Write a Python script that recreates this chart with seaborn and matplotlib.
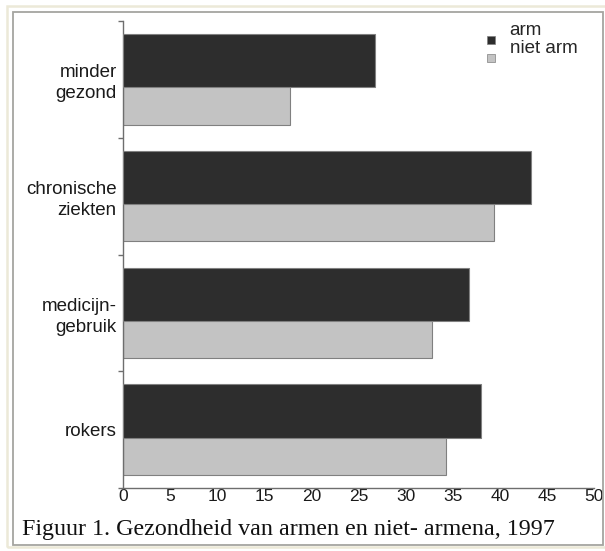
import pandas as pd
import matplotlib
matplotlib.use("Agg")
import matplotlib.pyplot as plt
import matplotlib.patches as mpatches
from matplotlib.legend_handler import HandlerPatch
import seaborn as sns

# waarden (percentages)
categorieen = ["minder\ngezond", "chronische\nziekten", "medicijn-\ngebruik", "rokers"]
groepen = ["arm", "niet arm"]
arm = [26.8, 43.3, 36.7, 38.0]
niet_arm = [17.7, 39.4, 32.8, 34.3]
xticks = [0, 5, 10, 15, 20, 25, 30, 35, 40, 45, 50]
titel = "Figuur 1. Gezondheid van armen en niet- armena, 1997"

df = pd.DataFrame({
    "categorie": categorieen * 2,
    "groep": ["arm"] * len(arm) + ["niet arm"] * len(niet_arm),
    "waarde": arm + niet_arm,
})

sns.set_theme(style="white")
plt.rcParams["font.family"] = ["Liberation Sans", "DejaVu Sans"]

kleuren = {"arm": "#2d2d2d", "niet arm": "#c3c3c3"}

fig = plt.figure(figsize=(6.05, 5.51), dpi=100)
ax = fig.add_axes([123 / 605, 1 - 488 / 551, (594 - 123) / 605, (488 - 21) / 551])

sns.barplot(data=df, y="categorie", x="waarde", hue="groep", hue_order=groepen,
            order=categorieen, orient="h", width=0.64, palette=kleuren,
            edgecolor="#808080", linewidth=0.8, errorbar=None, legend=False, ax=ax)

# balken overlappen elkaar zoals in het origineel (arm ligt bovenop)
for i, cont in enumerate(ax.containers):
    for bar in cont:
        extra = 0.457 - bar.get_height()
        bar.set_y(bar.get_y() - extra / 2)
        bar.set_height(bar.get_height() + extra)
        bar.set_zorder(3 if i == 0 else 2)

ax.set_xlim(0, 50)
ax.set_ylim(3.5, -0.5)
ax.set_xticks(xticks)
ax.set_xticklabels([str(t) for t in xticks])
ax.set_yticks([-0.5, 0.5, 1.5, 2.5, 3.5], minor=True)
ax.set_xlabel("")
ax.set_ylabel("")

ax.tick_params(axis="y", which="major", length=0, pad=4.5, labelsize=13.5, labelcolor="#1a1a1a")
ax.tick_params(axis="y", which="minor", length=3.6, width=1, color="#6e6e6e", left=True)
ax.tick_params(axis="x", length=0, pad=0.5, labelsize=12.5, labelcolor="#1a1a1a")
for lbl in ax.get_yticklabels():
    lbl.set_linespacing(1.3)

sns.despine(ax=ax)
for s in ["left", "bottom"]:
    ax.spines[s].set_color("#6e6e6e")
    ax.spines[s].set_linewidth(1)


def vierkantje(legend, orig_handle, xdescent, ydescent, width, height, fontsize):
    return mpatches.Rectangle((-xdescent, -ydescent - 8), 6, 6)


handles = [mpatches.Patch(facecolor=kleuren[g], edgecolor="#808080", linewidth=0.5) for g in groepen]
ax.legend(handles, groepen, loc="upper left", bbox_to_anchor=(487 / 605, 1 - 22 / 551),
          bbox_transform=fig.transFigure, frameon=False, fontsize=13.5,
          handlelength=0.45, handleheight=0.4, handletextpad=0.75, labelspacing=0.05,
          borderpad=0, borderaxespad=0,
          handler_map={mpatches.Patch: HandlerPatch(patch_func=vierkantje)})

fig.text(22 / 605, 1 - 535 / 551, titel, family=["Liberation Serif", "DejaVu Serif"],
         fontsize=17.3, va="baseline", ha="left", color="#111111")

# kader rond de figuur
fig.patches.append(mpatches.Rectangle((7 / 605, 1 - 547 / 551), 600 / 605, 541 / 551,
                                      transform=fig.transFigure, fill=False,
                                      edgecolor="#ece9d8", linewidth=1.8))
fig.patches.append(mpatches.Rectangle((13 / 605, 1 - 545 / 551), 590 / 605, 533 / 551,
                                      transform=fig.transFigure, fill=False,
                                      edgecolor="#a5a5a0", linewidth=1.3))

fig.savefig("out.png", dpi=100)
